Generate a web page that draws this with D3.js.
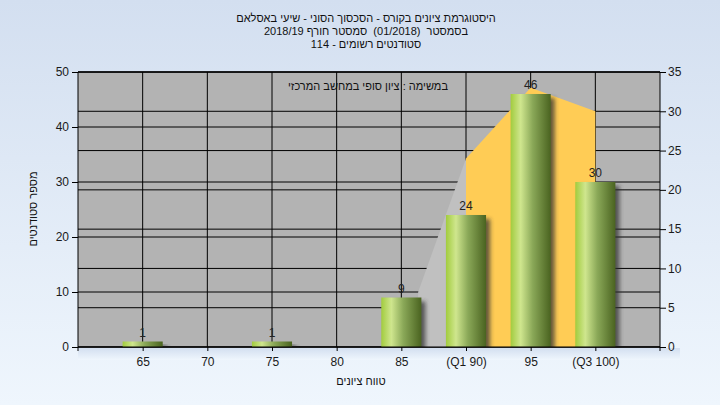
<!DOCTYPE html>
<html><head><meta charset="utf-8">
<script src="https://cdn.jsdelivr.net/npm/d3@7/dist/d3.min.js"></script>
<style>body{margin:0;}svg text{font-family:"Liberation Sans",Arial,sans-serif;} .heb{white-space:pre;}</style>
</head><body>
<svg id="c" width="720" height="405"></svg>
<script>
const titleLines = ["היסטוגרמת ציונים בקורס - הסכסוך הסוני - שיעי באסלאם", "בסמסטר  (01/2018)  סמסטר חורף 2018/19", "סטודנטים רשומים - 114"];
const noteText = "במשימה : ציון סופי במחשב המרכזי";
const xTitle = "טווח ציונים";
const yTitle = "מספר סטודנטים";
const categories = ["65","70","75","80","85","(Q1 90)","95","(Q3 100)"];
const catValues = [65,70,75,80,85,90,95,100];
const counts = [1,0,1,0,9,24,46,30];
const areaXs = [86.3, 90, 95, 100];
const areaVals = [7, 24, 33, 30];
const leftTicks = [0,10,20,30,40,50];
const rightTicks = [0,5,10,15,20,25,30,35];

const svg = d3.select("#c");
const defs = svg.append("defs");
const bg = defs.append("linearGradient").attr("id","bg").attr("x1",0).attr("y1",0).attr("x2",0).attr("y2",1);
bg.append("stop").attr("offset","0%").attr("stop-color","#d3dff0");
bg.append("stop").attr("offset","100%").attr("stop-color","#eff6fd");
const bar = defs.append("linearGradient").attr("id","bar").attr("x1",0).attr("y1",0).attr("x2",1).attr("y2",0);
bar.append("stop").attr("offset","0%").attr("stop-color","#a2cc3e");
bar.append("stop").attr("offset","25%").attr("stop-color","#cfe68e");
bar.append("stop").attr("offset","55%").attr("stop-color","#8aa858");
bar.append("stop").attr("offset","100%").attr("stop-color","#4a6320");
const f = defs.append("filter").attr("id","sh").attr("x","-20%").attr("y","-20%").attr("width","150%").attr("height","150%");
f.append("feGaussianBlur").attr("stdDeviation",2);

svg.append("rect").attr("width",720).attr("height",405).attr("fill","url(#bg)");

const L=78,R=660,T=72,B=347;
const x = d3.scaleLinear().domain([60,105]).range([L,R]);
const yL = d3.scaleLinear().domain([0,50]).range([B,T]);
const yR = d3.scaleLinear().domain([0,35]).range([B,T]);

svg.append("rect").attr("x",L).attr("y",T).attr("width",R-L).attr("height",B-T).attr("fill","#b3b3b3");

const g = svg.append("g");
catValues.forEach(v=>g.append("line").attr("x1",x(v)).attr("x2",x(v)).attr("y1",T).attr("y2",B).attr("stroke","#000"));
leftTicks.forEach(v=>g.append("line").attr("x1",L).attr("x2",R).attr("y1",yL(v)).attr("y2",yL(v)).attr("stroke","#000"));
rightTicks.forEach(v=>g.append("line").attr("x1",L).attr("x2",R).attr("y1",yR(v)).attr("y2",yR(v)).attr("stroke","#000"));

const pts = areaXs.map((v,i)=>[v,areaVals[i]]);
const area = d3.area().x(d=>x(d[0])).y0(B).y1(d=>yR(d[1]));
g.append("path").attr("d",area(pts.slice(0,2))).attr("fill","#c0c0c0");
g.append("path").attr("d",area(pts.slice(1))).attr("fill","#ffcc55");

const bw = 1.55;
const data = catValues.map((v,i)=>({v,c:counts[i]})).filter(d=>d.c>0);
g.selectAll(".sh").data(data).enter().append("rect")
 .attr("x",d=>x(d.v-bw)+4).attr("y",d=>yL(d.c)+4).attr("width",d=>x(d.v+bw)-x(d.v-bw)).attr("height",d=>B-yL(d.c))
 .attr("fill","#333").attr("opacity",0.75).attr("filter","url(#sh)");
svg.append("rect").attr("x",L).attr("y",B+1).attr("width",R-L+20).attr("height",12).attr("fill","url(#bg)");
g.selectAll(".b").data(data).enter().append("rect")
 .attr("x",d=>x(d.v-bw)).attr("y",d=>yL(d.c)).attr("width",d=>x(d.v+bw)-x(d.v-bw)).attr("height",d=>B-yL(d.c))
 .attr("fill","url(#bar)");
g.selectAll(".l").data(data).enter().append("text")
 .attr("x",d=>x(d.v)).attr("y",d=>yL(d.c)-5).attr("text-anchor","middle").attr("font-size",12).attr("fill","#222").text(d=>d.c);

svg.append("line").attr("x1",L).attr("x2",R).attr("y1",T).attr("y2",T).attr("stroke","#000");
svg.append("line").attr("x1",L).attr("x2",R).attr("y1",B).attr("y2",B).attr("stroke","#000");

const axL = svg.append("g").attr("transform",`translate(${L},0)`).call(d3.axisLeft(yL).tickValues(leftTicks).tickSize(6).tickPadding(3));
const axR = svg.append("g").attr("transform",`translate(${R},0)`).call(d3.axisRight(yR).tickValues(rightTicks).tickSize(6).tickPadding(2));
const axB = svg.append("g").attr("transform",`translate(0,${B})`).call(d3.axisBottom(x).tickValues(catValues).tickFormat((d,i)=>categories[i]).tickSize(4).tickPadding(6));
[axL,axR,axB].forEach(a=>{a.selectAll("path").remove();a.selectAll("line").attr("stroke","#000");a.selectAll("text").attr("font-size",12).attr("fill","#1a1a1a").attr("font-family","'Liberation Sans',Arial,sans-serif");});
svg.append("line").attr("x1",L).attr("x2",L).attr("y1",T).attr("y2",B+4).attr("stroke","#000");
svg.append("line").attr("x1",R).attr("x2",R).attr("y1",T).attr("y2",B+4).attr("stroke","#000");

const hs = 11;
titleLines.forEach((t,i)=>svg.append("text").attr("class","heb").attr("x",366).attr("y",22+i*13).attr("text-anchor","middle").attr("direction","rtl").attr("font-size",hs).attr("fill","#111").text(t));
svg.append("text").attr("class","heb").attr("x",368).attr("y",90).attr("text-anchor","middle").attr("direction","rtl").attr("font-size",hs).attr("fill","#111").text(noteText);
svg.append("text").attr("class","heb").attr("x",361).attr("y",385).attr("text-anchor","middle").attr("direction","rtl").attr("font-size",hs).attr("fill","#111").text(xTitle);
svg.append("text").attr("class","heb").attr("transform","translate(37,209) rotate(-90)").attr("text-anchor","middle").attr("direction","rtl").attr("font-size",hs).attr("fill","#111").text(yTitle);
</script>
</body></html>
